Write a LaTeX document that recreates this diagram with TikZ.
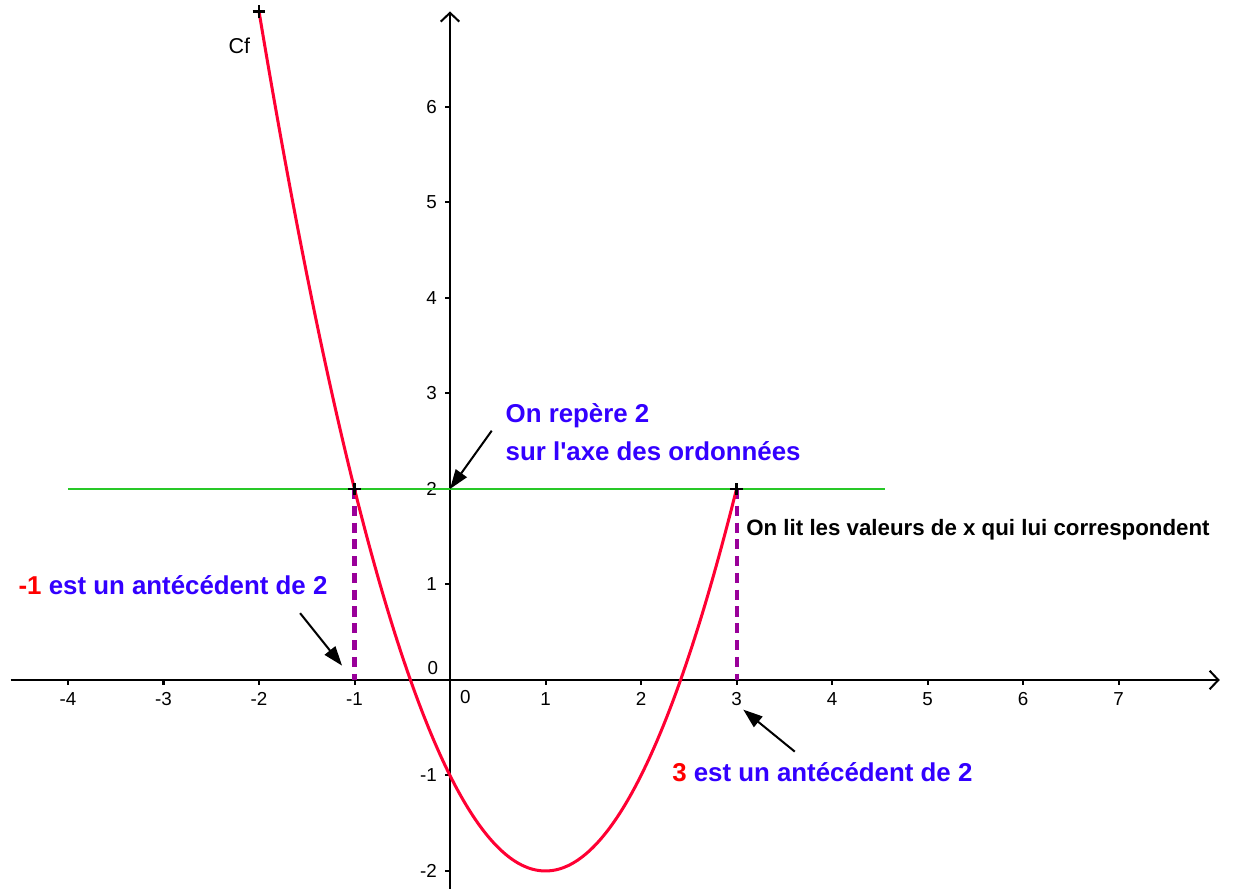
\documentclass[tikz,border=0pt]{standalone}
\usepackage{xcolor}
\usepackage{fontspec}
\setsansfont{Liberation Sans}
\usepackage{tikz}
\usetikzlibrary{positioning, arrows.meta, calc}

\definecolor{curvered}{RGB}{255,0,51}
\definecolor{textblue}{RGB}{51,0,255}
\definecolor{levelgreen}{RGB}{40,200,40}
\definecolor{droppurple}{RGB}{153,0,153}

\begin{document}
\begin{tikzpicture}[
  font=\sffamily,
  axis/.style={line width=0.6pt, -{Straight Barb[length=2.6pt,width=5.5pt]}},
  tick/.style={line width=0.6pt},
  ticklabel/.style={font=\sffamily\fontsize{5.6}{6}\selectfont, inner sep=0pt},
  curve/.style={curvered, line width=0.9pt},
  level/.style={levelgreen, line width=0.6pt},
  drop/.style={droppurple, line width=1.2pt, dash pattern=on 3pt off 2pt},
  pointer/.style={line width=0.6pt, -{Triangle[length=5.8pt,width=4pt]}},
  note/.style={font=\sffamily\bfseries\fontsize{7.7}{9}\selectfont, text=textblue,
    anchor=base west, inner sep=0pt},
  cross/.style={line width=0.7pt},
]
  \useasboundingbox (-4.712,-2.188) rectangle (8.230,7.120);

  % axes
  \coordinate (xmin) at (-4.6,0);
  \coordinate (xmax) at (8.06,0);
  \coordinate (ymin) at (0,-2.2);
  \coordinate (ymax) at (0,7.0);
  \draw[axis] (xmin) -- (xmax);
  \draw[axis] (ymin) -- (ymax);
  \foreach \x in {-4,...,-1,1,2,...,7} {
    \draw[tick] (\x,0) -- (\x,-0.055);
    \node[ticklabel] at (\x,-0.2) {\x};
  }
  \foreach \y in {-2,-1,1,2,...,6} {
    \draw[tick] (0,\y) -- (-0.055,\y);
    \node[ticklabel, anchor=east] at (-0.13,\y) {\y};
  }
  \node[ticklabel] (zy) at (-0.18,0.13) {0};
  \node[ticklabel] (zx) at (0.16,-0.18) {0};

  % points
  \coordinate (top) at (-2,7);
  \coordinate (ptA) at (-1,2);
  \coordinate (ptB) at (3,2);
  \coordinate (ptA0) at (-1,0);
  \coordinate (ptB0) at (3,0);
  \coordinate (o2) at (0,2);
  \coordinate (lvlL) at (-4,2);
  \coordinate (lvlR) at (4.55,2);

  \draw[level] (lvlL) -- (lvlR);
  \draw[drop] (ptA) -- (ptA0);
  \draw[drop] (ptB) -- (ptB0);
  \draw[curve] plot[domain=-2:3, samples=120, smooth] (\x, {\x*\x-2*\x-1});
  \foreach \p in {top,ptA,ptB}
    \draw[cross] ([xshift=-1.9pt]\p) -- ([xshift=1.9pt]\p)
                 ([yshift=-1.9pt]\p) -- ([yshift=1.9pt]\p);

  \node[font=\sffamily\fontsize{6.4}{7}\selectfont, anchor=base west, inner sep=0pt]
    (cf) at (-2.325,6.56) {Cf};

  % annotations
  \node[note] (rep1) at (0.576,2.694) {On repère 2};
  \node[note] (rep2) at (0.576,2.293) {sur l\textquotesingle axe des ordonnées};
  \node[font=\sffamily\bfseries\fontsize{6.64}{8}\selectfont, anchor=base west, inner sep=0pt]
    (lit) at (3.096,1.518) {On lit les valeurs de x qui lui correspondent};
  \node[note] (ante1) at (-4.524,0.89) {\textcolor{red}{-1} est un antécédent de 2};
  \node[note] (ante2) at (2.32,-1.065) {\textcolor{red}{3} est un antécédent de 2};

  \coordinate (s1) at (0.437,2.61);
  \coordinate (s2) at (-1.57,0.70);
  \coordinate (t2) at (-1.13,0.15);
  \coordinate (s3) at (3.61,-0.75);
  \coordinate (t3) at (3.07,-0.31);
  \draw[pointer] (s1) -- (o2);
  \draw[pointer] (s2) -- (t2);
  \draw[pointer] (s3) -- (t3);
\end{tikzpicture}
\end{document}
